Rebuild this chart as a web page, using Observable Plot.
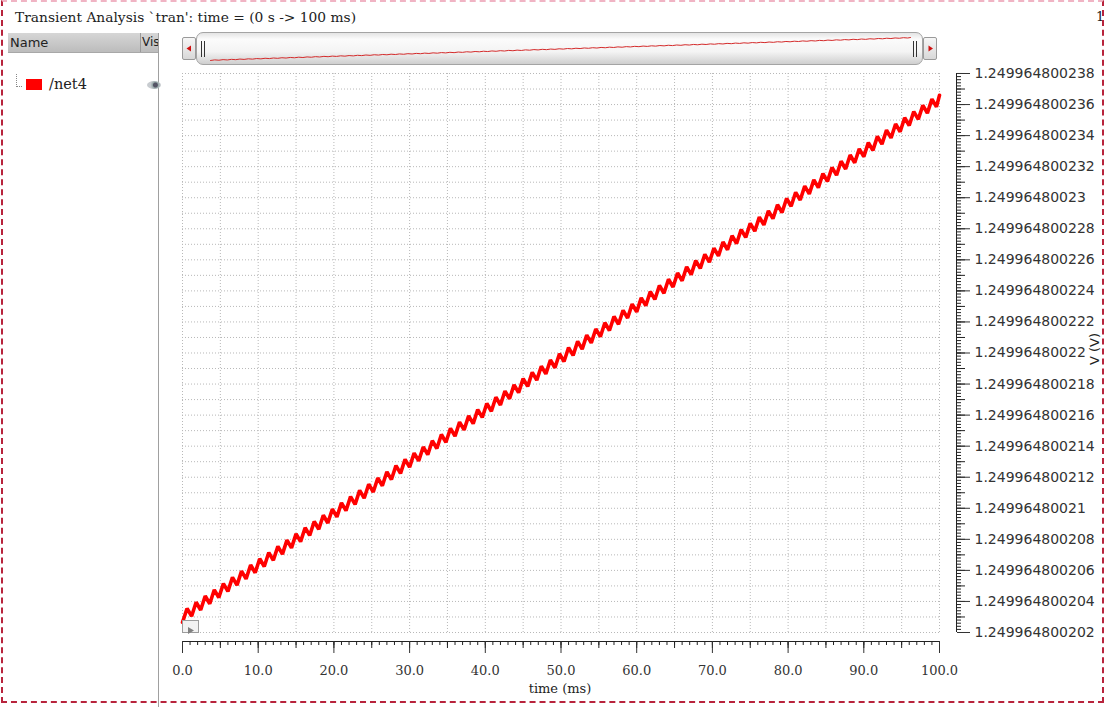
<!DOCTYPE html>
<html><head><meta charset="utf-8">
<script src="https://cdn.jsdelivr.net/npm/d3@7"></script>
<script src="https://cdn.jsdelivr.net/npm/@observablehq/plot@0.6"></script>
<style>
html,body{margin:0;padding:0;background:#fff;}
#page{position:relative;width:1108px;height:707px;overflow:hidden;background:#fff;font-family:"DejaVu Serif",serif;color:#222;}
.abs{position:absolute;white-space:nowrap;}
#border{position:absolute;left:1px;top:0px;width:1103px;height:703px;border:2px dashed #b8233c;border-top-color:#f0b4c4;box-sizing:border-box;pointer-events:none;z-index:5;}
#title{left:15px;top:9px;font-size:13.8px;line-height:16px;}
#corner{left:1096px;top:9px;font-size:13px;line-height:16px;}
#hdr{left:8px;top:33px;width:151px;height:20px;background:linear-gradient(#d6d6d6,#bcbcbc);border-bottom:1px solid #a8a8a8;box-sizing:border-box;font-family:"DejaVu Sans",sans-serif;font-size:13px;line-height:19px;overflow:hidden;}
#hdr .sep{position:absolute;left:132px;top:0;width:1px;height:20px;background:#9a9a9a;}
#panelLine{left:158px;top:33px;width:1px;height:674px;background:#a0a0a0;}
#tree{left:16px;top:74px;width:5px;height:12px;border-left:1px dotted #888;border-bottom:1px dotted #888;}
#swatch{left:26px;top:79px;width:16px;height:11px;background:#ff0000;}
#net{left:49px;top:76px;font-size:14.5px;line-height:17px;}
#eye{left:147px;top:81px;width:14px;height:8px;border-radius:50%;background:radial-gradient(circle at 60% 50%,#556 0 2px,#9aa 3px,#c8ccd0 5px);}
#sb{left:182px;top:31px;width:757px;height:35px;}
.btn{position:absolute;top:6px;width:14px;height:23px;border:1px solid #9a9a9a;border-radius:2px;background:linear-gradient(#f6f6f6,#d8d8d8);box-sizing:border-box;}
.thumb{position:absolute;left:14px;top:1px;width:727px;height:33px;border:1px solid #a4a4a4;border-radius:7px;background:linear-gradient(#e4e4e4 0%,#fbfbfb 20%,#f4f4f4 60%,#cfcfcf 100%);box-sizing:border-box;}
.grip{position:absolute;top:8px;width:4px;height:16px;border-left:1px solid #333;border-right:1px solid #333;box-sizing:border-box;}
#mini{left:210px;top:36px;}
#chart{left:160px;top:66px;}
#xlabel{left:480px;top:681px;width:160px;text-align:center;font-size:13px;line-height:16px;}
#ylabel{left:1070px;top:341px;width:50px;text-align:center;font-family:"DejaVu Sans",sans-serif;font-size:13px;line-height:16px;transform:rotate(-90deg);}
#play{left:182px;top:620px;width:17px;height:13px;border:1px solid #9c9c9c;background:#f2f2f2;box-sizing:border-box;}
</style></head><body>
<div id="page">
  <div id="border"></div>
  <div class="abs" id="title">Transient Analysis `tran': time = (0 s -&gt; 100 ms)</div>
  <div class="abs" id="corner">1</div>
  <div class="abs" id="hdr"><span style="position:absolute;left:2px;">Name</span><div class="sep"></div><span style="position:absolute;left:134px;font-size:12px;">Vis</span></div>
  <div class="abs" id="panelLine"></div>
  <div class="abs" id="tree"></div>
  <div class="abs" id="swatch"></div>
  <div class="abs" id="net">/net4</div>
  <div class="abs" id="eye"></div>
  <div class="abs" id="sb">
    <div class="btn" style="left:0"><svg width="12" height="21"><path d="M3.5,10.5 L8,7.5 L8,13.5 Z" fill="#d01010"/></svg></div>
    <div class="thumb"><div class="grip" style="left:4px"></div><div class="grip" style="left:716px"></div></div>
    <div class="btn" style="left:741px"><svg width="12" height="21"><path d="M9,10.5 L4.5,7.5 L4.5,13.5 Z" fill="#d01010"/></svg></div>
  </div>
  <div class="abs" id="mini"></div>
  <div class="abs" id="chart"></div>
  <div class="abs" id="play"><svg width="15" height="11"><path d="M5,2 L11,5.5 L5,9 Z" fill="#808080"/></svg></div>
  <div class="abs" id="xlabel">time (ms)</div>
  <div class="abs" id="ylabel">V (V)</div>
</div>
<script>
// ---- data ----
const V_BASE = 1.2499648002;               // volts; net4 values below are offsets in pV
const timeMs = [
  0,0.6,1.2,1.8,2.4,3,3.6,4.2,4.8,5.4,
  6,6.6,7.2,7.8,8.4,9,9.6,10.2,10.8,11.4,
  12,12.6,13.2,13.8,14.4,15,15.6,16.2,16.8,17.4,
  18,18.6,19.2,19.8,20.4,21,21.6,22.2,22.8,23.4,
  24,24.6,25.2,25.8,26.4,27,27.6,28.2,28.8,29.4,
  30,30.6,31.2,31.8,32.4,33,33.6,34.2,34.8,35.4,
  36,36.6,37.2,37.8,38.4,39,39.6,40.2,40.8,41.4,
  42,42.6,43.2,43.8,44.4,45,45.6,46.2,46.8,47.4,
  48,48.6,49.2,49.8,50.4,51,51.6,52.2,52.8,53.4,
  54,54.6,55.2,55.8,56.4,57,57.6,58.2,58.8,59.4,
  60,60.6,61.2,61.8,62.4,63,63.6,64.2,64.8,65.4,
  66,66.6,67.2,67.8,68.4,69,69.6,70.2,70.8,71.4,
  72,72.6,73.2,73.8,74.4,75,75.6,76.2,76.8,77.4,
  78,78.6,79.2,79.8,80.4,81,81.6,82.2,82.8,83.4,
  84,84.6,85.2,85.8,86.4,87,87.6,88.2,88.8,89.4,
  90,90.6,91.2,91.8,92.4,93,93.6,94.2,94.8,95.4,
  96,96.6,97.2,97.8,98.4,99,99.6,100
];
const net4OffsetPV = [
  2.65,3.55,3.05,3.95,3.45,4.35,3.85,4.75,4.25,5.15,
  4.65,5.55,5.05,5.95,5.45,6.35,5.85,6.75,6.25,7.15,
  6.65,7.55,7.05,7.95,7.45,8.35,7.85,8.75,8.25,9.15,
  8.65,9.55,9.05,9.95,9.45,10.35,9.85,10.75,10.25,11.15,
  10.65,11.55,11.05,11.95,11.45,12.35,11.85,12.75,12.25,13.15,
  12.65,13.55,13.05,13.95,13.45,14.35,13.85,14.75,14.25,15.15,
  14.65,15.55,15.05,15.95,15.45,16.35,15.85,16.75,16.25,17.15,
  16.65,17.55,17.05,17.95,17.45,18.35,17.85,18.75,18.25,19.15,
  18.65,19.55,19.05,19.95,19.45,20.35,19.85,20.75,20.25,21.15,
  20.65,21.55,21.05,21.95,21.45,22.35,21.85,22.75,22.25,23.15,
  22.65,23.55,23.05,23.95,23.45,24.35,23.85,24.75,24.25,25.15,
  24.65,25.55,25.05,25.95,25.45,26.35,25.85,26.75,26.25,27.15,
  26.65,27.55,27.05,27.95,27.45,28.35,27.85,28.75,28.25,29.15,
  28.65,29.55,29.05,29.95,29.45,30.35,29.85,30.75,30.25,31.15,
  30.65,31.55,31.05,31.95,31.45,32.35,31.85,32.75,32.25,33.15,
  32.65,33.55,33.05,33.95,33.45,34.35,33.85,34.75,34.25,35.15,
  34.65,35.55,35.05,35.95,35.45,36.35,35.85,36.6
];
const xTickLabels = ["0.0","10.0","20.0","30.0","40.0","50.0","60.0","70.0","80.0","90.0","100.0"];
const yTickLabels = [
  "1.249964800202","1.249964800204","1.249964800206","1.249964800208","1.24996480021",
  "1.249964800212","1.249964800214","1.249964800216","1.249964800218","1.24996480022",
  "1.249964800222","1.249964800224","1.249964800226","1.249964800228","1.24996480023",
  "1.249964800232","1.249964800234","1.249964800236","1.249964800238"
];
const seriesName = "/net4";
const xTitle = "time (ms)", yTitle = "V (V)";

// ---- build ----
const data = timeMs.map((t, i) => ({t, v: V_BASE + net4OffsetPV[i] * 1e-12}));
const xTicks = xTickLabels.map(Number);
const yTicks = yTickLabels.map(Number);
const xLab = new Map(xTicks.map((d, i) => [d, xTickLabels[i]]));
const yLab = new Map(yTicks.map((d, i) => [d, yTickLabels[i]]));
const yMin = yTicks[0], yMax = yTicks[yTicks.length - 1];
const yMinor = d3.range(0, 180.5).map(k => yMin + k * 0.2e-12);
const yMid = d3.range(0, 36.5).map(k => yMin + k * 1e-12);
const xMinor = d3.range(0, 101, 1);
const xMid = d3.range(0, 101, 5);
const red = "#ff0000", ink = "#222";
const grid = {stroke: "#b8b8b8", strokeDasharray: "1,2", strokeWidth: 1};

const chart = Plot.plot({
  width: 948, height: 641,
  marginLeft: 22, marginRight: 169, marginTop: 7, marginBottom: 75,
  x: {domain: [0, 100]},
  y: {domain: [yMin, yMax]},
  style: {background: "transparent", overflow: "visible"},
  marks: [
    Plot.ruleX(xMid, grid),
    Plot.ruleY(yMid, grid),
    Plot.line(data, {x: "t", y: "v", stroke: red, strokeWidth: 3.6, strokeLinejoin: "miter"}),
    // x axis
    Plot.ruleY([yMin], {x1: 0, x2: 100, dy: 9, stroke: ink}),
    Plot.axisX(xMinor, {tickSize: 4, tickFormat: () => "", dy: 9, label: null, color: ink}),
    Plot.axisX(xMid, {tickSize: 7, tickFormat: () => "", dy: 9, label: null, color: ink}),
    Plot.axisX(xTicks, {tickSize: 12, tickPadding: 12, tickFormat: d => xLab.get(d), dy: 9, label: null, color: "#333",
      fontFamily: "DejaVu Serif", fontSize: 13}),
    // y axis (right)
    Plot.ruleX([100], {y1: yMin, y2: yMax, dx: 17, stroke: ink}),
    Plot.axisY(yMinor, {anchor: "right", tickSize: 4, tickFormat: () => "", dx: 17, label: null, color: ink}),
    Plot.axisY(yMid, {anchor: "right", tickSize: 8, tickFormat: () => "", dx: 17, label: null, color: ink}),
    Plot.axisY(yTicks, {anchor: "right", tickSize: 13, tickPadding: 5, tickFormat: d => yLab.get(d), dx: 17, label: null, color: "#333",
      fontFamily: "DejaVu Sans", fontSize: 14})
  ]
});
document.getElementById("chart").appendChild(chart);

const mini = Plot.plot({
  width: 700, height: 25, margin: 0, marginTop: 1, marginBottom: 1,
  x: {domain: [0, 100], axis: null},
  y: {axis: null},
  style: {background: "transparent", overflow: "visible"},
  marks: [Plot.line(data, {x: "t", y: "v", stroke: "#d42a2a", strokeWidth: 1})]
});
document.getElementById("mini").appendChild(mini);
document.getElementById("net").textContent = seriesName;
document.getElementById("xlabel").textContent = xTitle;
document.getElementById("ylabel").textContent = yTitle;
</script>
</body></html>
